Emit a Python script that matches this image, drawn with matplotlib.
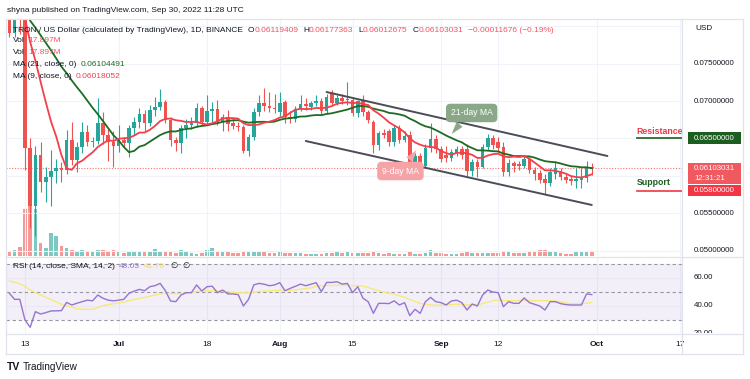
import matplotlib
matplotlib.use("Agg")
import matplotlib.pyplot as plt
import matplotlib.transforms as mtransforms
from matplotlib.lines import Line2D
from matplotlib.patches import Rectangle
import numpy as np
import pandas as pd

plt.rcParams['font.family'] = ['Liberation Sans', 'DejaVu Sans']

# ---------------- data: TRX / USD daily (Binance) ----------------
dates = pd.date_range('2022-06-10', '2022-09-30', freq='D')

open_ = [
    # Jun 10 - Jun 30
    0.0838, 0.0791, 0.0830, 0.0812, 0.0637, 0.0560, 0.0628, 0.0592, 0.0598, 0.0606, 0.0611,
    0.0608, 0.0648, 0.0621, 0.0639, 0.0658, 0.0645, 0.0646, 0.0670, 0.0655, 0.0645,
    # Jul
    0.0640, 0.0648, 0.0644, 0.0664, 0.0672, 0.0682, 0.0670, 0.0688, 0.0692, 0.0699, 0.0674,
    0.0648, 0.0644, 0.0664, 0.0668, 0.0671, 0.0690, 0.0672, 0.0686, 0.0689, 0.0672, 0.0678,
    0.0671, 0.0667, 0.0665, 0.0633, 0.0652, 0.0685, 0.0697, 0.0693, 0.0690,
    # Aug
    0.0685, 0.0699, 0.0679, 0.0676, 0.0689, 0.0696, 0.0692, 0.0697, 0.0700, 0.0686, 0.0711,
    0.0697, 0.0704, 0.0701, 0.0702, 0.0684, 0.0700, 0.0685, 0.0672, 0.0641, 0.0657, 0.0660,
    0.0645, 0.0664, 0.0648, 0.0655, 0.0613, 0.0626, 0.0613, 0.0637, 0.0649,
    # Sep
    0.0636, 0.0628, 0.0624, 0.0631, 0.0636, 0.0636, 0.0606, 0.0618, 0.0612, 0.0638, 0.0650,
    0.0645, 0.0639, 0.0605, 0.0617, 0.0616, 0.0613, 0.0622, 0.0608, 0.0604, 0.0596, 0.0590,
    0.0603, 0.0606, 0.0598, 0.0596, 0.0593, 0.0594, 0.0597, 0.06119409,
]
high = [
    0.0850, 0.0845, 0.0835, 0.0818, 0.0650, 0.0640, 0.0645, 0.0612, 0.0635, 0.0622, 0.0618,
    0.0661, 0.0672, 0.0645, 0.0672, 0.0668, 0.0652, 0.0704, 0.0685, 0.0662, 0.0660,
    0.0668, 0.0652, 0.0668, 0.0678, 0.0690, 0.0688, 0.0694, 0.0706, 0.0716, 0.0702, 0.0678,
    0.0652, 0.0668, 0.0676, 0.0678, 0.0697, 0.0693, 0.0708, 0.0698, 0.0701, 0.0683, 0.0688,
    0.0676, 0.0672, 0.0668, 0.0656, 0.0690, 0.0708, 0.0718, 0.0712, 0.0710,
    0.0712, 0.0702, 0.0686, 0.0693, 0.0708, 0.0704, 0.0700, 0.0708, 0.0704, 0.0710, 0.0715,
    0.0708, 0.0710, 0.0725, 0.0706, 0.0702, 0.0708, 0.0688, 0.0675, 0.0660, 0.0662, 0.0662,
    0.0668, 0.0668, 0.0660, 0.0660, 0.0630, 0.0630, 0.0642, 0.0671, 0.0655,
    0.0640, 0.0640, 0.0636, 0.0640, 0.0640, 0.0642, 0.0622, 0.0622, 0.0642, 0.0656, 0.0654,
    0.0652, 0.0645, 0.0622, 0.0620, 0.0620, 0.0626, 0.0625, 0.0612, 0.0608, 0.0602, 0.0610,
    0.0620, 0.0610, 0.0602, 0.0600, 0.0610, 0.0610, 0.0620, 0.06177363,
]
low = [
    0.0785, 0.0785, 0.0790, 0.0608, 0.0530, 0.0520, 0.0578, 0.0565, 0.0560, 0.0590, 0.0592,
    0.0603, 0.0615, 0.0605, 0.0630, 0.0640, 0.0638, 0.0642, 0.0643, 0.0620, 0.0612,
    0.0632, 0.0638, 0.0625, 0.0655, 0.0664, 0.0660, 0.0666, 0.0680, 0.0688, 0.0670, 0.0640,
    0.0633, 0.0631, 0.0650, 0.0662, 0.0665, 0.0668, 0.0668, 0.0672, 0.0668, 0.0660, 0.0660,
    0.0662, 0.0660, 0.0630, 0.0627, 0.0648, 0.0680, 0.0686, 0.0685, 0.0684,
    0.0680, 0.0670, 0.0670, 0.0672, 0.0686, 0.0688, 0.0688, 0.0693, 0.0682, 0.0682, 0.0694,
    0.0694, 0.0696, 0.0695, 0.0680, 0.0678, 0.0680, 0.0670, 0.0630, 0.0635, 0.0650, 0.0640,
    0.0640, 0.0644, 0.0645, 0.0608, 0.0606, 0.0606, 0.0610, 0.0632, 0.0630,
    0.0618, 0.0618, 0.0620, 0.0626, 0.0622, 0.0600, 0.0600, 0.0598, 0.0610, 0.0634, 0.0636,
    0.0632, 0.0600, 0.0600, 0.0605, 0.0608, 0.0610, 0.0604, 0.0595, 0.0590, 0.0576, 0.0586,
    0.0596, 0.0594, 0.0590, 0.0588, 0.0584, 0.0584, 0.0592, 0.06012675,
]
close = [
    0.0791, 0.0830, 0.0812, 0.0637, 0.0560, 0.0628, 0.0592, 0.0598, 0.0606, 0.0611, 0.0608,
    0.0648, 0.0621, 0.0639, 0.0658, 0.0645, 0.0646, 0.0670, 0.0655, 0.0645, 0.0640,
    0.0648, 0.0644, 0.0664, 0.0672, 0.0682, 0.0670, 0.0688, 0.0692, 0.0699, 0.0674, 0.0648,
    0.0644, 0.0664, 0.0668, 0.0671, 0.0690, 0.0672, 0.0686, 0.0689, 0.0672, 0.0678, 0.0669,
    0.0667, 0.0665, 0.0633, 0.0652, 0.0685, 0.0697, 0.0693, 0.0690, 0.0689,
    0.0697, 0.0679, 0.0676, 0.0689, 0.0696, 0.0693, 0.0697, 0.0700, 0.0686, 0.0705, 0.0697,
    0.0704, 0.0700, 0.0702, 0.0684, 0.0700, 0.0685, 0.0675, 0.0641, 0.0657, 0.0655, 0.0645,
    0.0664, 0.0648, 0.0653, 0.0613, 0.0626, 0.0613, 0.0637, 0.0649, 0.0636,
    0.0623, 0.0624, 0.0632, 0.0636, 0.0628, 0.0606, 0.0618, 0.0612, 0.0638, 0.0650, 0.0641,
    0.0637, 0.0605, 0.0617, 0.0613, 0.0613, 0.0622, 0.0608, 0.0603, 0.0595, 0.0590, 0.0605,
    0.0611, 0.0598, 0.0594, 0.0593, 0.0596, 0.0598, 0.0612, 0.06103031,
]
# volume in millions
volume = [
    22, 27, 40, 212, 315, 212, 58, 36, 103, 90, 45, 36, 27, 22, 27, 18, 18, 27, 27, 18, 27,
    22, 14, 18, 18, 22, 18, 18, 31, 18, 18, 18, 14, 27, 18, 14, 9, 14, 27, 36, 22, 18, 18,
    14, 14, 18, 18, 18, 22, 18, 14, 14,
    22, 14, 14, 14, 14, 9, 9, 9, 9, 14, 14, 18, 14, 18, 14, 14, 14, 14, 22, 14, 9, 14, 9,
    9, 9, 18, 9, 9, 14, 27, 14,
    14, 9, 9, 9, 14, 18, 14, 14, 14, 14, 14, 14, 22, 18, 14, 14, 14, 18, 18, 27, 27, 18,
    18, 14, 9, 9, 18, 18, 18, 17.897,
]
rsi = [
    49.0, 44.6, 44.6, 29.7, 24.4, 35.7, 34.0, 35.0, 36.2, 36.3, 36.4, 42.4, 40.5, 41.8, 42.9,
    44.0, 43.5, 47.7, 45.4, 44.0, 43.5,
    44.0, 44.6, 48.9, 50.5, 51.8, 50.8, 53.7, 54.5, 56.1, 50.8, 43.4, 42.9, 47.7, 49.4, 49.4,
    55.0, 50.6, 53.7, 54.1, 49.4, 51.3, 48.5, 48.5, 48.0, 39.8, 44.6, 55.0, 56.1, 55.5, 54.4, 55.0,
    56.6, 50.8, 52.5, 54.0, 55.6, 54.4, 55.5, 56.6, 50.1, 56.8, 56.8, 57.3, 55.6, 56.1, 49.4,
    53.7, 45.4, 42.9, 34.5, 41.7, 41.7, 41.5, 43.5, 40.5, 42.2, 32.8, 37.4, 34.5, 42.9, 46.0, 42.9,
    42.2, 40.5, 43.4, 44.0, 42.2, 36.9, 41.2, 39.8, 47.7, 51.3, 49.9, 49.4, 39.3, 42.9, 41.7,
    41.7, 45.6, 42.2, 41.0, 39.8, 36.9, 42.9, 42.9, 41.5, 40.8, 40.5, 40.5, 40.5, 48.5, 48.03,
]
# closes / RSI before the visible window (only feed the moving averages)
pre_dates = pd.date_range('2022-05-20', '2022-06-09', freq='D')
pre_close = [0.0812, 0.0815, 0.0820, 0.0826, 0.0818, 0.0822, 0.0805, 0.0810, 0.0818, 0.0836,
             0.0840, 0.0832, 0.0826, 0.0830, 0.0838, 0.0845, 0.0842, 0.0850, 0.0848, 0.0844, 0.0838]
pre_rsi = [57, 59, 58, 60, 62, 59, 57, 58, 61, 60, 58, 56, 55]

resistance = 0.065
support = 0.058
channel_upper = [('2022-08-10', 0.07120), ('2022-10-03', 0.06265)]
channel_lower = [('2022-08-06', 0.06465), ('2022-09-30', 0.05610)]

tick_dates = ['2022-06-13', '2022-07-01', '2022-07-18', '2022-08-01', '2022-08-15',
              '2022-09-01', '2022-09-12', '2022-10-01', '2022-10-17']
tick_labels = ['13', 'Jul', '18', 'Aug', '15', 'Sep', '12', 'Oct', '17']
price_ticks = [0.075, 0.070, 0.055, 0.050]
rsi_ticks = [60, 40, 20]

# ---------------- styling ----------------
UP, DOWN = '#26a69a', '#ef5350'
DARK = '#131722'
LINE = '#e0e3eb'
GRID = '#f0f3fa'
W, H = 750, 379

day0 = pd.Timestamp('2022-06-13')
def dx(d):
    return (pd.Timestamp(d) - day0).days

x = np.array((dates - day0).days)
x_all = np.array((pre_dates.append(dates) - day0).days)
o, h, l, c = map(np.array, (open_, high, low, close))
up = c >= o
cols = np.where(up, UP, DOWN)

fig = plt.figure(figsize=(W / 100, H / 100), dpi=100)

def hide(a):
    for s in a.spines.values():
        s.set_visible(False)
    a.tick_params(left=False, bottom=False, right=False, top=False,
                  labelleft=False, labelbottom=False, labelright=False, labeltop=False)

def add_ax(x0, y0, x1, y1):
    a = fig.add_axes([x0 / W, 1 - y1 / H, (x1 - x0) / W, (y1 - y0) / H])
    hide(a)
    return a

ax = add_ax(6, 19, 682, 256)
ax_rsi = add_ax(6, 257, 682, 333)
ax_ps = add_ax(682, 19, 742, 256)
ax_rs = add_ax(682, 257, 742, 333)
XLIM = (-3.65, 126.35)
YLIM = (0.049278, 0.080963)
RLIM = (20.29, 75.16)

# volume underneath
ax_v = ax.twinx()
ax_v.bar(x, volume, width=0.72, color=cols, alpha=0.6, lw=0)
ax_v.set_ylim(0, 1060)
ax_v.axis('off')
ax_v.set_zorder(0)
ax.set_zorder(1)
ax.patch.set_alpha(0)
hide(ax)

# grid
for t in tick_dates:
    ax.axvline(dx(t), color=GRID, lw=0.8, zorder=0)
    ax_rsi.axvline(dx(t), color=GRID, lw=0.8, zorder=0)
for p in np.arange(0.050, 0.0801, 0.005):
    ax.axhline(p, color=GRID, lw=0.8, zorder=0)

# candles
ax.vlines(x, l, h, colors=cols, lw=0.8, zorder=2)
body = np.maximum(np.abs(c - o), 0.00012)
ax.bar(x, body, bottom=np.minimum(o, c), width=0.72, color=cols, lw=0, zorder=3)

# moving averages
closes_all = pd.Series(pre_close + close)
ax.plot(x_all, closes_all.rolling(21).mean(), color='#1e6b24', lw=1.3, zorder=4)
ax.plot(x_all, closes_all.rolling(9).mean(), color='#f2404b', lw=1.3, zorder=4)

# current price line
ax.axhline(c[-1], color=DOWN, lw=0.8, ls=(0, (1, 1.5)), alpha=0.8, zorder=1)

# descending channel
for seg in (channel_upper, channel_lower):
    ax.plot([dx(seg[0][0]), dx(seg[1][0])], [seg[0][1], seg[1][1]],
            color='#4a4d57', lw=1.4, zorder=5, solid_capstyle='round')

# resistance / support marks
lvl_x0 = 117.6
ax.plot([lvl_x0, XLIM[1]], [resistance] * 2, color='#1b5e20', lw=1.2, zorder=5)
ax.plot([lvl_x0, XLIM[1]], [support] * 2, color='#f23645', lw=1.2, zorder=5)
ax.annotate('Resistance', (lvl_x0, resistance), xytext=(0, 1.5), textcoords='offset points',
            color='#f23645', fontsize=6.3, fontweight='bold', va='bottom', ha='left', zorder=6)
ax.annotate('Support', (lvl_x0, support), xytext=(0, 2.5), textcoords='offset points',
            color='#1b5e20', fontsize=6.3, fontweight='bold', va='bottom', ha='left', zorder=6)

# MA callouts
ax.annotate('21-day MA', xy=(81.7, 0.0653), xytext=(85.9, 0.0684), color='white', fontsize=6.2,
            ha='center', va='center', zorder=7,
            bbox=dict(boxstyle='round,pad=0.55,rounding_size=0.5', fc='#8aa888', ec='none'),
            arrowprops=dict(arrowstyle='wedge,tail_width=0.9,shrink_factor=0.5', fc='#8aa888',
                            ec='none', relpos=(0.35, 0.0)))
ax.annotate('9-day MA', xy=(75.6, 0.0637), xytext=(72.2, 0.06064), color='white', fontsize=6.2,
            ha='center', va='center', zorder=7,
            bbox=dict(boxstyle='round,pad=0.55,rounding_size=0.5', fc='#f5a3a7', ec='none'),
            arrowprops=dict(arrowstyle='wedge,tail_width=0.9,shrink_factor=0.5', fc='#f5a3a7',
                            ec='none', relpos=(0.6, 1.0)))

ax.set_xlim(XLIM)
ax.set_ylim(YLIM)

# ---------------- RSI pane ----------------
ax_rsi.axhspan(30, 70, color='#7e57c2', alpha=0.09, lw=0, zorder=0)
for r in rsi_ticks:
    ax_rsi.axhline(r, color='#ebe8f3', lw=0.8, zorder=0)
for r in (70, 50, 30):
    ax_rsi.axhline(r, color='#9598a1', lw=0.8, ls=(0, (3, 2.5)), zorder=1)
rsi_all = pd.Series(pre_rsi + rsi)
ax_rsi.plot(x_all[len(pre_close) - len(pre_rsi):], rsi_all.rolling(14).mean(),
            color='#f7e97c', lw=1.0, zorder=2)
ax_rsi.plot(x, rsi, color='#9575cd', lw=1.0, zorder=3)
ax_rsi.set_xlim(XLIM)
ax_rsi.set_ylim(RLIM)

# ---------------- price scales ----------------
ax_ps.set_ylim(YLIM)
ax_rs.set_ylim(RLIM)
tps = mtransforms.blended_transform_factory(ax_ps.transAxes, ax_ps.transData)
trs = mtransforms.blended_transform_factory(ax_rs.transAxes, ax_rs.transData)
for p in price_ticks:
    ax_ps.text(0.2, p, f'{p:.8f}', transform=tps, fontsize=5.7, color=DARK, va='center', clip_on=True)
for r in rsi_ticks:
    ax_rs.text(0.2, r, f'{r:.2f}', transform=trs, fontsize=5.7, color=DARK, va='center', clip_on=True)

pxp = (YLIM[1] - YLIM[0]) / 237  # price per pixel
def scale_box(p, top_px, bot_px, fc, lines):
    ax_ps.add_patch(Rectangle((0.1, p - bot_px * pxp), 0.89, (top_px + bot_px) * pxp,
                              transform=tps, fc=fc, ec='none', zorder=3))
    for i, s in enumerate(lines):
        ax_ps.text(0.2, p - i * 10 * pxp, s, transform=tps, fontsize=5.7, color='white',
                   va='center', zorder=4)

scale_box(resistance, 6, 6, '#1b5e20', [f'{resistance:.8f}'])
scale_box(c[-1], 5.5, 15.5, '#f0595f', [f'{c[-1]:.8f}', '12:31:21'])
scale_box(support, 5.5, 5.5, '#f23645', [f'{support:.8f}'])
fig.text(695 / W, 1 - 29 / H, 'USD', fontsize=5.9, color=DARK, va='center')

# ---------------- date axis ----------------
tdate = mtransforms.blended_transform_factory(ax_rsi.transData, fig.transFigure)
for t, s in zip(tick_dates, tick_labels):
    bold = s.isalpha()
    ax_rsi.text(dx(t), 1 - 344 / H, s, transform=tdate, ha='center', va='center', fontsize=6,
                color=DARK, fontweight='bold' if bold else 'normal', clip_on=False)

# ---------------- frame lines ----------------
def fline(x0, y0, x1, y1):
    fig.add_artist(Line2D([x0 / W, x1 / W], [1 - y0 / H, 1 - y1 / H], color=LINE, lw=0.9))
fline(5.5, 18.5, 742.5, 18.5)
fline(5.5, 353.5, 742.5, 353.5)
fline(5.5, 18.5, 5.5, 353.5)
fline(742.5, 18.5, 742.5, 353.5)
fline(682, 18.5, 682, 353.5)
fline(5.5, 256.5, 742.5, 256.5)
fline(5.5, 333.5, 742.5, 333.5)

# ---------------- texts ----------------
def chain(px, py, parts, size=6):
    t = fig.text(px / W, 1 - py / H, parts[0][0], color=parts[0][1], fontsize=size,
                 va='center', ha='left', zorder=10)
    for s, col, gap in parts[1:]:
        t = ax.annotate(s, xy=(1, 0), xycoords=t, xytext=(gap, 0), textcoords='offset points',
                        color=col, fontsize=size, va='bottom', ha='left',
                        annotation_clip=False, zorder=10)
    return t

RED = '#f7525f'
fig.text(7 / W, 1 - 11 / H, 'shyna published on TradingView.com, Sep 30, 2022 11:28 UTC',
         fontsize=6, color=DARK, va='center')
chain(13, 30, [('TRON / US Dollar (calculated by TradingView), 1D, BINANCE', DARK),
               ('O', DARK, 3.5), (f'{o[-1]:.8f}', RED, 0),
               ('H', DARK, 3.5), (f'{h[-1]:.8f}', RED, 0),
               ('L', DARK, 3.5), (f'{l[-1]:.8f}', RED, 0),
               ('C', DARK, 3.5), (f'{c[-1]:.8f}', RED, 0),
               ('\u22120.00011676 (\u22120.19%)', RED, 3.5)])
chain(13, 41, [('Vol', DARK), ('17.897M', RED, 2.5)])
chain(13, 52, [('Vol', DARK), ('17.897M', RED, 2.5)])
chain(13, 64, [('MA (21, close, 0)', DARK), ('0.06104491', '#1e6b24', 3)])
chain(13, 76, [('MA (9, close, 0)', DARK), ('0.06018052', '#f2404b', 3)])
chain(13, 267, [('RSI (14, close, SMA, 14, 2)', DARK), ('48.03', '#9575cd', 3),
                ('41.76', '#f2dc5d', 3), ('\u2205', DARK, 4), ('\u2205', DARK, 3)])

fig.text(7 / W, 1 - 367 / H, 'TV', fontsize=7.5, fontweight='heavy', color=DARK, va='center')
fig.text(23 / W, 1 - 367 / H, 'TradingView', fontsize=7.2, color=DARK, va='center')

fig.savefig('out.png', dpi=100, facecolor='white')
